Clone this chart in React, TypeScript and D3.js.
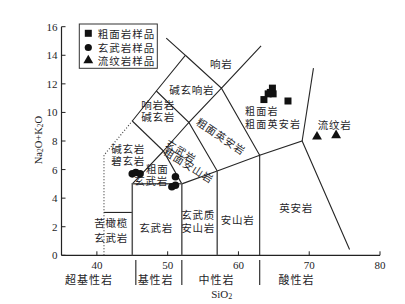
import React from "react";
import * as d3 from "d3";

// ---- data ----
const xTicks = [40, 50, 60, 70, 80];
const yTicks = [0, 2, 4, 6, 8, 10, 12, 14, 16];

// trachyte samples (SiO2, Na2O+K2O)
const trachyteSiO2 = [63.6, 64.2, 64.5, 64.8, 64.9, 67.0];
const trachyteAlk = [10.9, 11.3, 11.4, 11.7, 11.3, 10.8];
// basalt samples
const basaltSiO2 = [45.0, 45.5, 46.1, 51.1, 50.6, 51.1];
const basaltAlk = [5.7, 5.8, 5.7, 5.5, 4.8, 4.9];
// rhyolite samples
const rhyoliteSiO2 = [71.1, 73.8];
const rhyoliteAlk = [8.3, 8.4];

// TAS field boundaries (SiO2, alkali)
const solidBoundaries: [number, number][][] = [
  [[41, 3], [45, 3]],
  [[45, 5], [49.4, 7.3], [52, 5]],
  [[45, 9.4], [49.4, 7.3]],
  [[49.4, 7.3], [53, 9.3], [57, 5.9]],
  [[45, 9.4], [48.4, 11.5], [52.5, 14], [49.8, 15.2]],
  [[48.4, 11.5], [53, 9.3], [57.6, 11.7], [63, 7]],
  [[52.5, 14], [57.6, 11.7], [63.2, 14.65]],
  [[63, 7], [69, 8], [75.7, 0.4]],
  [[69, 8], [70.6, 13.1]],
  [[52, 5], [57, 5.9], [63, 7], [63, 0]],
];
const greyBoundaries: [number, number][][] = [
  [[45, 0], [45, 5], [52, 5], [52, 0]],
  [[57, 0], [57, 5.9]],
];
const dottedBoundary: [number, number][] = [[41, 0], [41, 7], [45, 9.4]];

// field names: [text, SiO2, alkali, rotation]
const fieldNames: [string, number, number, number][] = [
  ["响岩", 57.56, 13.45, 0],
  ["碱玄响岩", 53.4, 11.57, 0],
  ["响岩岩", 48.66, 10.55, 0],
  ["碱玄岩", 48.66, 9.72, 0],
  ["碱玄岩", 44.42, 7.46, 0],
  ["碧玄岩", 44.42, 6.65, 0],
  ["粗面", 48.52, 6.06, 0],
  ["玄武岩", 47.67, 5.25, 0],
  ["玄武岩", 51.9, 7.3, 32],
  ["粗面安山岩", 53.0, 6.32, 32],
  ["粗面英安岩", 57.56, 8.35, 34],
  ["流纹岩", 73.6, 9.12, 0],
  ["英安岩", 68.15, 3.38, 0],
  ["安山岩", 59.89, 2.52, 0],
  ["玄武质", 54.31, 2.85, 0],
  ["安山岩", 54.31, 1.95, 0],
  ["玄武岩", 48.38, 1.98, 0],
  ["苦橄榄", 42.02, 2.3, 0],
  ["玄武岩", 42.02, 1.25, 0],
];
// left-aligned names
const leftNames: [string, number, number][] = [
  ["粗面岩", 60.94, 10.1],
  ["粗面英安岩", 60.94, 9.2],
];

const groupNames = ["超基性岩", "基性岩", "中性岩", "酸性岩"];
const groupCenters = [38.9, 48.3, 56.9, 68.2];
const groupSeparators = [45.5, 52, 63];

const legendLabels = ["粗面岩样品", "玄武岩样品", "流纹岩样品"];

export default function App() {
  const x = d3.scaleLinear().domain([35, 80]).range([61.5, 380]);
  const y = d3.scaleLinear().domain([0, 16]).range([255.3, 26.7]);
  const line = d3
    .line<[number, number]>()
    .x((d) => x(d[0]))
    .y((d) => y(d[1]));
  const font = "'Liberation Serif', 'Noto Sans CJK SC', serif";
  const cjk = "'Noto Sans CJK SC', sans-serif";
  const ink = "#1e1e28";
  const tri = d3.symbol().type(d3.symbolTriangle).size(42)() as string;

  return (
    <svg
      width={405}
      height={304}
      style={{ position: "absolute", left: 0, top: 0, background: "#fff" }}
    >
      {/* axes */}
      <line x1={x(35)} x2={x(35)} y1={y(0)} y2={y(16)} stroke="#222" strokeWidth={1.2} />
      <line x1={x(35)} x2={x(80)} y1={y(0)} y2={y(0)} stroke="#222" strokeWidth={1.2} />
      {yTicks.map((t) => (
        <g key={"y" + t}>
          <line x1={x(35)} x2={x(35) + 4} y1={y(t)} y2={y(t)} stroke="#222" />
          <text
            x={x(35) - 4}
            y={y(t)}
            textAnchor="end"
            dominantBaseline="central"
            fontFamily={font}
            fontSize={11}
            fill={ink}
          >
            {t}
          </text>
        </g>
      ))}
      {xTicks.map((t) => (
        <g key={"x" + t}>
          <line x1={x(t)} x2={x(t)} y1={y(0)} y2={y(0) - 4} stroke="#222" />
          <text
            x={x(t)}
            y={y(0) + 10}
            textAnchor="middle"
            dominantBaseline="central"
            fontFamily={font}
            fontSize={11}
            fill={ink}
          >
            {t}
          </text>
        </g>
      ))}
      {groupSeparators.map((s, i) => (
        <line key={"s" + i} x1={x(s)} x2={x(s)} y1={260} y2={285} stroke="#333" strokeWidth={1.2} />
      ))}
      {groupNames.map((g, i) => (
        <text
          key={"g" + i}
          x={x(groupCenters[i])}
          y={279}
          textAnchor="middle"
          dominantBaseline="central"
          fontFamily={cjk}
          fontSize={11}
          fill={ink}
          letterSpacing={1}
        >
          {g}
        </text>
      ))}
      <text x={221.7} y={294} textAnchor="middle" dominantBaseline="central" fontFamily={font} fontSize={11} fill={ink}>
        SiO<tspan fontSize={8} dy={2}>2</tspan>
      </text>
      <text
        transform="translate(38,140) rotate(-90)"
        textAnchor="middle"
        dominantBaseline="central"
        fontFamily={font}
        fontSize={10.5}
        fill={ink}
      >
        Na<tspan fontSize={7.5} dy={2}>2</tspan>
        <tspan dy={-2}>O+K</tspan>
        <tspan fontSize={7.5} dy={2}>2</tspan>
        <tspan dy={-2}>O</tspan>
      </text>

      {/* field boundaries */}
      {solidBoundaries.map((b, i) => (
        <path key={"b" + i} d={line(b) as string} fill="none" stroke="#262626" strokeWidth={1.1} />
      ))}
      {greyBoundaries.map((b, i) => (
        <path key={"gb" + i} d={line(b) as string} fill="none" stroke="#555" strokeWidth={1.5} />
      ))}
      <path d={line(dottedBoundary) as string} fill="none" stroke="#444" strokeWidth={1.2} strokeDasharray="1,2" />

      {/* field names */}
      {fieldNames.map(([t, sx, sy, r], i) => (
        <text
          key={"f" + i}
          transform={`translate(${x(sx)},${y(sy)}) rotate(${r})`}
          textAnchor="middle"
          dominantBaseline="central"
          fontFamily={cjk}
          fontSize={10.5}
          fill={ink}
          letterSpacing={0.8}
        >
          {t}
        </text>
      ))}
      {leftNames.map(([t, sx, sy], i) => (
        <text
          key={"l" + i}
          x={x(sx)}
          y={y(sy)}
          dominantBaseline="central"
          fontFamily={cjk}
          fontSize={10}
          fill={ink}
          letterSpacing={1.2}
        >
          {t}
        </text>
      ))}

      {/* samples */}
      {trachyteSiO2.map((s, i) => (
        <rect key={"t" + i} x={x(s) - 3.5} y={y(trachyteAlk[i]) - 3.5} width={7} height={7} fill="#111" />
      ))}
      {basaltSiO2.map((s, i) => (
        <circle key={"c" + i} cx={x(s)} cy={y(basaltAlk[i])} r={3.8} fill="#111" />
      ))}
      {rhyoliteSiO2.map((s, i) => (
        <path key={"r" + i} d={tri} transform={`translate(${x(s)},${y(rhyoliteAlk[i])})`} fill="#111" />
      ))}

      {/* legend */}
      <rect x={79.3} y={24} width={78} height={44.3} fill="#fff" stroke="#333" strokeWidth={1} />
      <rect x={84.8} y={29.8} width={7} height={7} fill="#111" />
      <circle cx={88.3} cy={47.5} r={3.6} fill="#111" />
      <path d={tri} transform="translate(88.3,60.5)" fill="#111" />
      {legendLabels.map((t, i) => (
        <text
          key={"lg" + i}
          x={97.7}
          y={33.5 + i * 13.5}
          dominantBaseline="central"
          fontFamily={cjk}
          fontSize={10.5}
          fill={ink}
          letterSpacing={1}
        >
          {t}
        </text>
      ))}
    </svg>
  );
}
